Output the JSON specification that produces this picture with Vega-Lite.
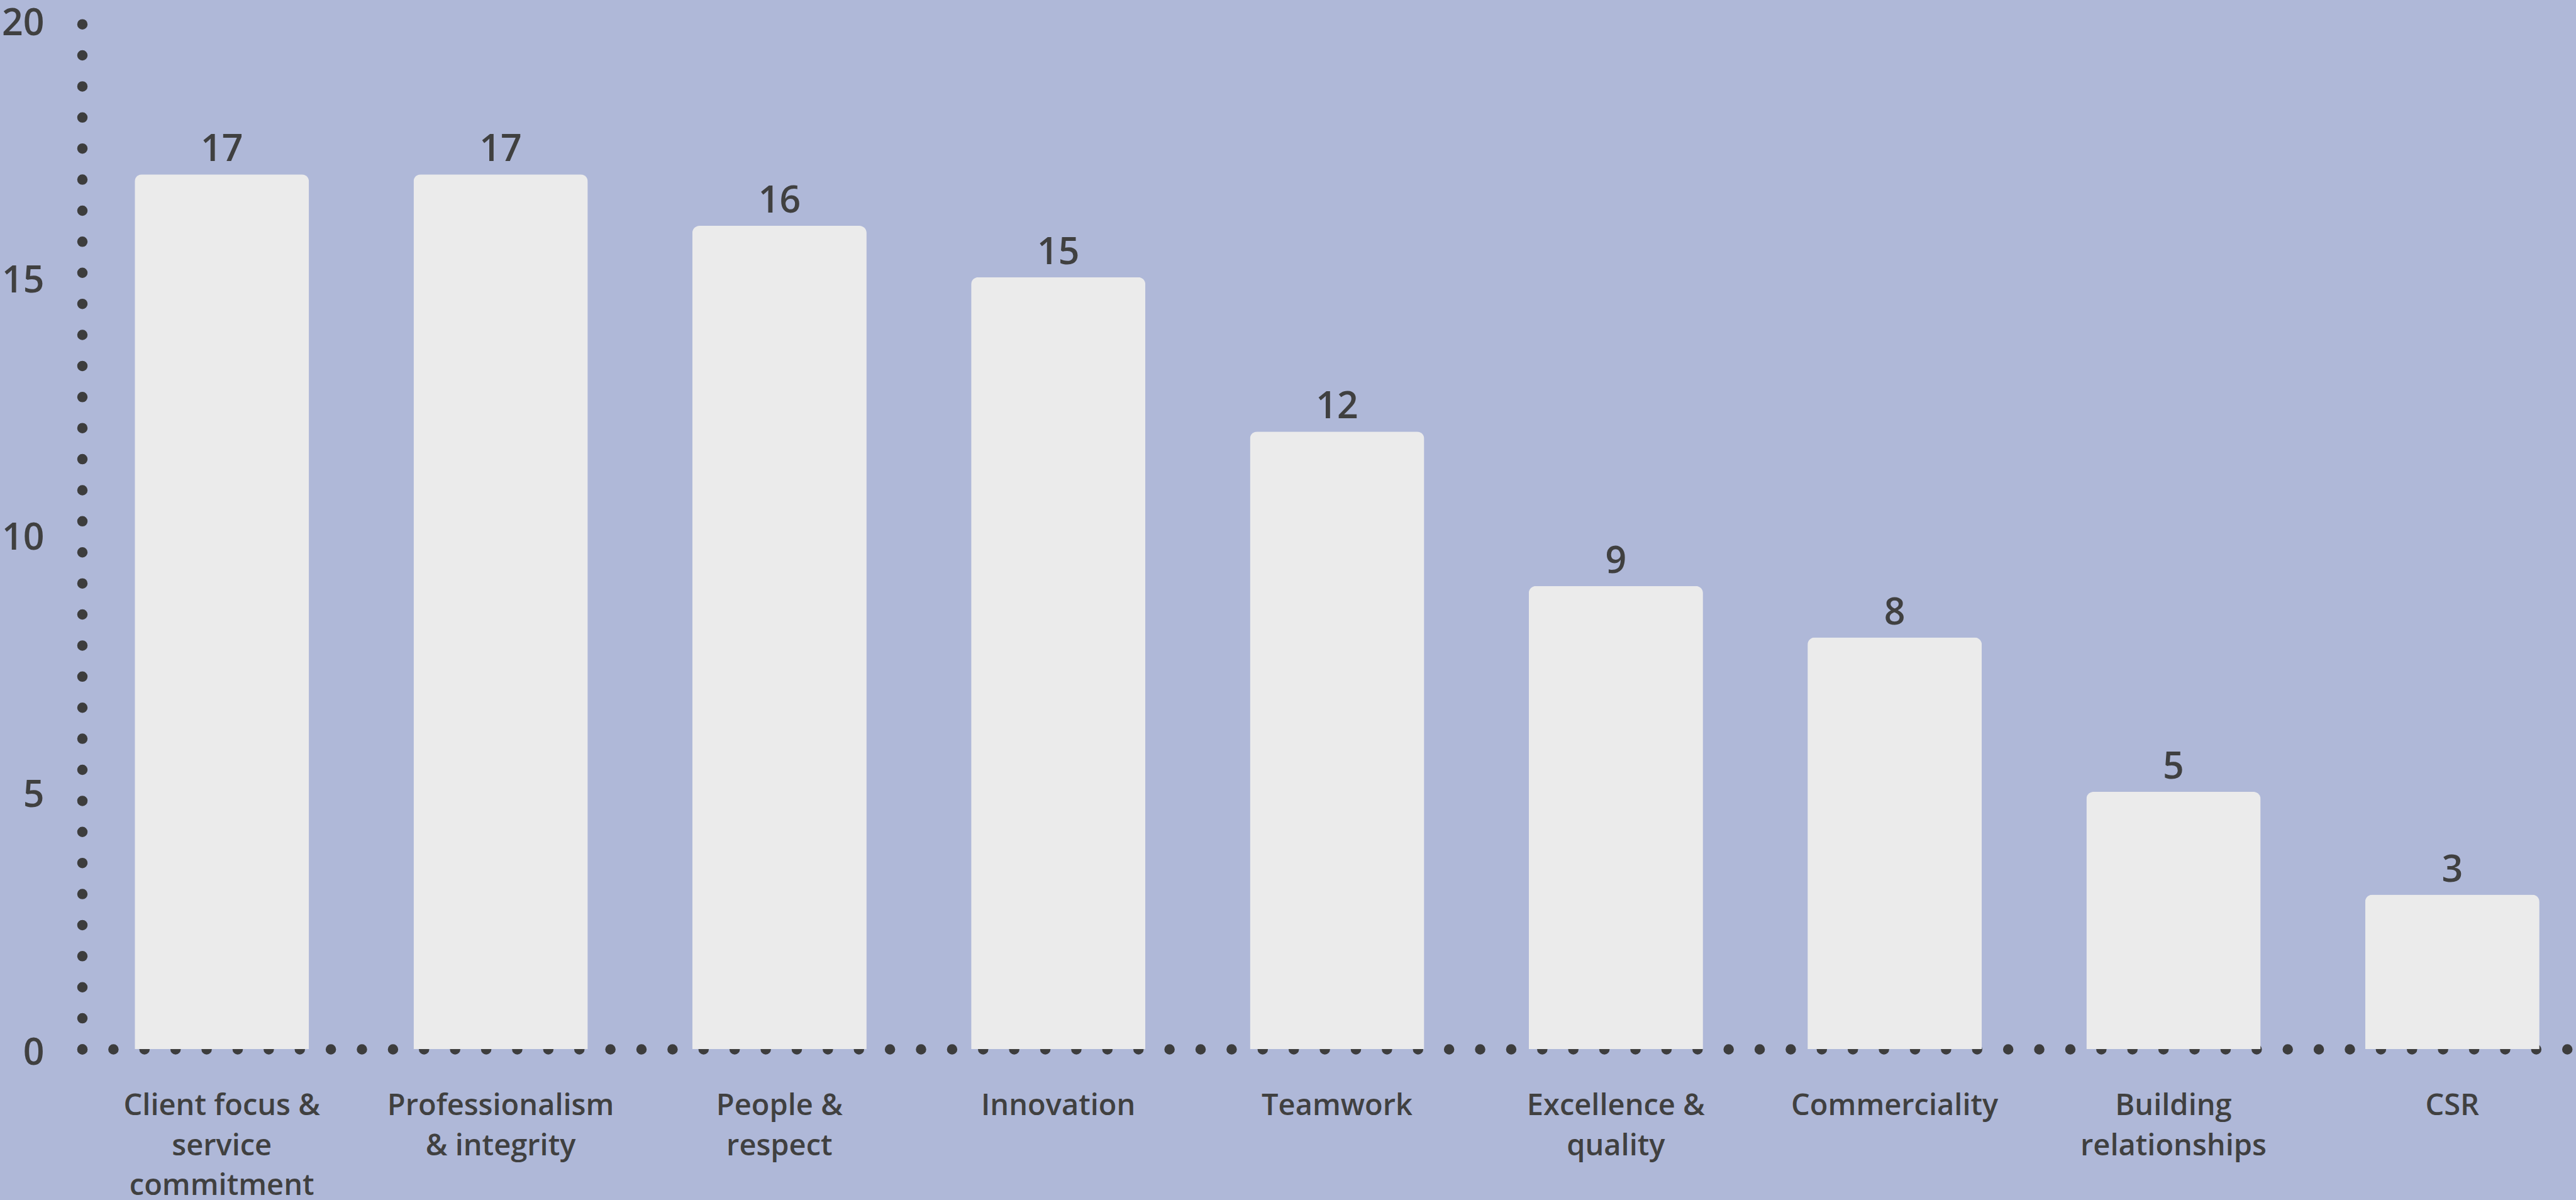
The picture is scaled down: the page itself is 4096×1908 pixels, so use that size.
{
  "$schema": "https://vega.github.io/schema/vega-lite/v6.json",
  "width": 3965.5,
  "height": 1636.2,
  "autosize": {"type": "none"},
  "padding": {"left": 130.5, "top": 31.8, "right": 0, "bottom": 240},
  "background": "#afb8d8",
  "config": {"view": {"stroke": null}, "font": "Open Sans"},
  "data": {
    "values": [
      {"value_name": "Client focus & service commitment", "count": 17},
      {"value_name": "Professionalism & integrity", "count": 17},
      {"value_name": "People & respect", "count": 16},
      {"value_name": "Innovation", "count": 15},
      {"value_name": "Teamwork", "count": 12},
      {"value_name": "Excellence & quality", "count": 9},
      {"value_name": "Commerciality", "count": 8},
      {"value_name": "Building relationships", "count": 5},
      {"value_name": "CSR", "count": 3}
    ]
  },
  "encoding": {
    "x": {
      "field": "value_name",
      "type": "nominal",
      "sort": null,
      "scale": {"paddingInner": 0.375, "paddingOuter": 0.16, "align": 0.59},
      "axis": {
        "title": null,
        "ticks": false,
        "tickSize": 0,
        "domainColor": "#3d3d3d",
        "domainWidth": 16.5,
        "domainDash": [0, 49.39],
        "domainCap": "round",
        "labelPadding": 67.5,
        "labelFontSize": 47,
        "labelFontWeight": 600,
        "labelLineHeight": 63.5,
        "labelColor": "#404040",
        "labelAngle": 0,
        "labelLimit": 1000,
        "labelExpr": "datum.value == 'Client focus & service commitment' ? ['Client focus &', 'service', 'commitment'] : datum.value == 'Professionalism & integrity' ? ['Professionalism', '& integrity'] : datum.value == 'People & respect' ? ['People &', 'respect'] : datum.value == 'Excellence & quality' ? ['Excellence &', 'quality'] : datum.value == 'Building relationships' ? ['Building', 'relationships'] : datum.label"
      }
    },
    "y": {
      "field": "count",
      "type": "quantitative",
      "scale": {"domain": [0, 20], "nice": false},
      "axis": {
        "title": null,
        "ticks": false,
        "tickSize": 0,
        "grid": false,
        "values": [0, 5, 10, 15, 20],
        "domainColor": "#3d3d3d",
        "domainWidth": 16.5,
        "domainDash": [0, 49.39],
        "domainCap": "round",
        "labelPadding": 60.5,
        "labelFontSize": 59,
        "labelFontWeight": 600,
        "labelOffset": 6,
        "labelFlush": false,
        "labelColor": "#404040"
      }
    }
  },
  "layer": [
    {
      "mark": {"type": "bar", "color": "#ebebeb", "cornerRadiusTopLeft": 11.5, "cornerRadiusTopRight": 11.5}
    },
    {
      "mark": {"type": "text", "baseline": "alphabetic", "dy": -21, "fontSize": 59, "fontWeight": 600, "color": "#404040"},
      "encoding": {"text": {"field": "count", "type": "quantitative"}}
    }
  ]
}
